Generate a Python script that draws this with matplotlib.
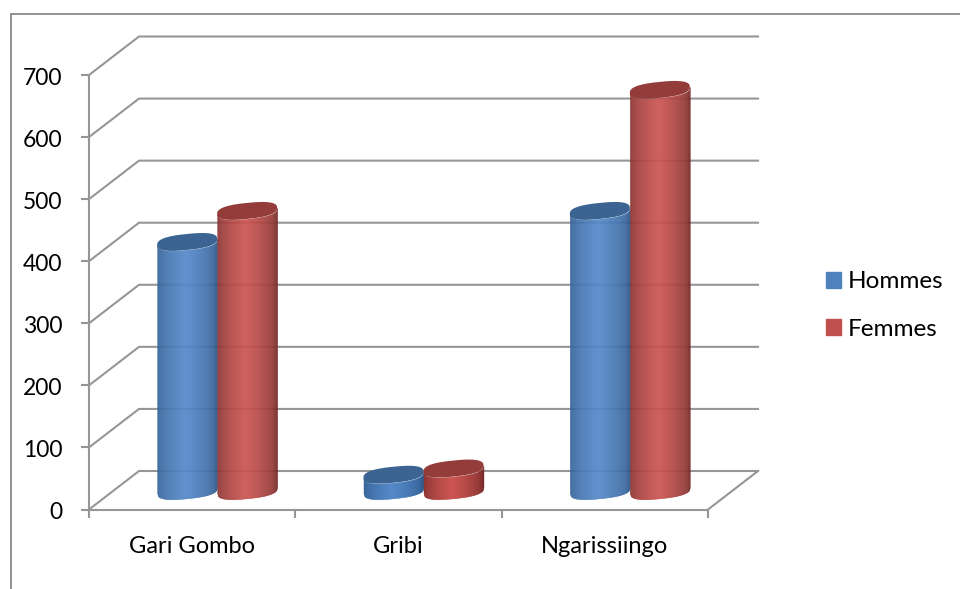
import numpy as np
import matplotlib
matplotlib.use('Agg')
import matplotlib.pyplot as plt
from matplotlib.colors import to_rgb
from matplotlib.patches import Patch, Rectangle

categories = ['Gari Gombo', 'Gribi', 'Ngarissiingo']
hommes = [400, 25, 450]
femmes = [450, 35, 645]
y_ticks = [0, 100, 200, 300, 400, 500, 600, 700]

W, H = 960, 589
plt.rcParams['font.family'] = ['Lato', 'DejaVu Sans']

grey = '#969696'
text_col = '#000000'

# front plane of the fake 3d box, in pixels
left, right, top, bottom = 89, 708, 75, 509.5
# depth of the box, in data units
depth_x = 50 / (right - left) * 3
depth_y = 38.5 / (bottom - top) * 700
bar_w = 60 / (right - left) * 3
ell_b = 8 / (bottom - top) * 700
ell_tilt = 3 / (bottom - top) * 700
ell_n = 2.6

fig = plt.figure(figsize=(W / 100, H / 100), dpi=100, facecolor='white')
ax = fig.add_axes((left / W, 1 - bottom / H, (right - left) / W, (bottom - top) / H))
ax.set_xlim(0, 3)
ax.set_ylim(0, 700)
ax.patch.set_visible(False)

for s in ['top', 'right']:
    ax.spines[s].set_visible(False)
for s in ['left', 'bottom']:
    ax.spines[s].set_color(grey)
    ax.spines[s].set_linewidth(1.5)

ax.set_yticks(y_ticks)
ax.set_yticklabels([])
ax.set_xticks([0, 1, 2, 3])
ax.set_xticklabels([])
ax.tick_params(axis='both', color=grey, width=1.5, length=6, direction='out')
for v in y_ticks:
    ax.annotate(str(v), (0, v), xytext=(-19, -2.5), textcoords='offset points',
                ha='right', va='center', fontsize=16.5, color=text_col,
                annotation_clip=False)
for i, name in enumerate(categories):
    ax.annotate(name, (i + 0.5, 0), xytext=(0, -19), textcoords='offset points',
                ha='center', va='top', fontsize=17, color=text_col,
                annotation_clip=False)

# walls and floor
for v in y_ticks:
    ax.plot([0, depth_x, 3 + depth_x], [v, v + depth_y, v + depth_y],
            color=grey, lw=1.5, clip_on=False, zorder=1)
ax.plot([3, 3 + depth_x], [0, depth_y], color=grey, lw=1.5, clip_on=False, zorder=1)


def cylinder(xc, val, dark, mid, cap, z):
    # one bar, drawn as thin vertical strips so the shading looks round
    yc = depth_y / 2
    us = np.linspace(-1, 1, 61)
    dark, mid = np.array(to_rgb(dark)), np.array(to_rgb(mid))
    for u0, u1 in zip(us[:-1], us[1:]):
        um = (u0 + u1) / 2
        f = max(0, 1 - abs(um + 0.05)) ** 0.55
        c = dark + (mid - dark) * f
        xs = np.array([u0, u1])
        edge = ell_tilt * xs - ell_b * (1 - np.abs(xs) ** ell_n) ** (1 / ell_n)
        ax.fill_between(xc + xs * bar_w / 2, yc + edge, yc + val + edge, color=c, lw=0.3,
                        clip_on=False, zorder=z)
    t = np.linspace(0, 2 * np.pi, 120)
    cx = np.sign(np.cos(t)) * np.abs(np.cos(t)) ** (2 / ell_n)
    cy = np.sign(np.sin(t)) * np.abs(np.sin(t)) ** (2 / ell_n)
    ax.fill(xc + cx * bar_w / 2, yc + val + ell_tilt * cx + ell_b * cy,
            color=cap, lw=0, clip_on=False, zorder=z + 0.5)


for i in range(len(categories)):
    xc = i + 0.5 + depth_x / 2
    cylinder(xc - bar_w / 2, hommes[i], '#2f5a8c', '#5689ca', '#3b6492', 3 + i)
    cylinder(xc + bar_w / 2, femmes[i], '#7a2d2b', '#cc5552', '#943c3a', 3.7 + i)

handles = [Patch(color='#4f81bd', label='Hommes'), Patch(color='#c0504d', label='Femmes')]
fig.legend(handles=handles, loc='center left', bbox_to_anchor=(804 / W, 1 - 305.5 / H),
           frameon=False, fontsize=17.5, labelcolor=text_col, handlelength=0.62,
           handleheight=0.62, handletextpad=0.29, labelspacing=1.08)

# outer frame of the chart, it runs off the picture on the right and at the bottom
fig.add_artist(Rectangle((11 / W, -0.05), 1.1, 1.05 - 14 / H, transform=fig.transFigure,
                         facecolor='none', edgecolor='#888888', lw=1.3))

fig.savefig('out.png', dpi=100)
